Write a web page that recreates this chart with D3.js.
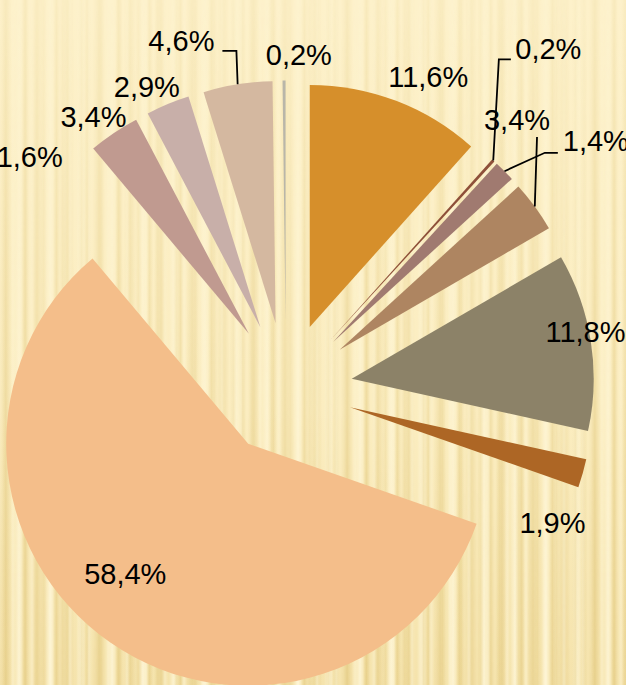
<!DOCTYPE html>
<meta charset="utf-8">
<style>
body { margin: 0; overflow: hidden; background: #fcf0c8; }
.label { font-family: "Liberation Sans", Arial, sans-serif; font-size: 29px; fill: #000; }
.leader { fill: none; stroke: #000; stroke-width: 1.8px; }
</style>
<body>
<script src="https://d3js.org/d3.v7.min.js"></script>
<script>

// slices, clockwise from 12 o'clock
var labels = ["11,6%", "0,2%", "1,4%", "3,4%", "11,8%", "1,9%", "58,4%", "1,6%", "3,4%", "2,9%", "4,6%", "0,2%"];
// the 1,6% slice has no visible width in the picture
var values = [11.6, 0.2, 1.4, 3.4, 11.8, 1.9, 58.4, 0, 3.4, 2.9, 4.6, 0.2];
var colors = ["#d68f2b", "#8e5039", "#a07a70", "#ae8561", "#8c8268", "#ad6625",
              "#f4be8a", "#e8c9a0", "#c09a90", "#c8afa9", "#d4b8a0", "#b9b6a9"];

// layout
var width = 626, height = 685;
var cx = 286, cy = 389, radius = 242, explode = 66.5;

// label placement: angle (deg, clockwise from top) and distance from pie centre
var labelAngle = [24.5, 37.6, 51.3, 40.6, 79.1, 116.6, 221, 312.2, 324.8, 335.3, 343.3, 2.2];
var labelDist  = [343, 430, 397, 355, 305, 298, 245, 346, 334, 333, 364, 335];
// leader lines: [elbow, end] offsets from label centre
var leaders = [null, [[-49.5, 11], [-37.5, 11]], [[-51, 12], [-38, 12]], [[20, 17.5], [20, 17.5]],
               null, null, null, null, null, null, [[55, 10.5], [41, 10.5]], null];

var svg = d3.select("body").append("svg")
    .attr("width", width)
    .attr("height", height);

// background: cream with soft vertical stripes, stronger toward the bottom
var defs = svg.append("defs");

var bg = defs.append("linearGradient").attr("id", "bg")
    .attr("x1", 0).attr("y1", 0).attr("x2", 0).attr("y2", 1);
bg.append("stop").attr("offset", 0).attr("stop-color", "#fdf1ca");
bg.append("stop").attr("offset", 0.6).attr("stop-color", "#fbedc0");
bg.append("stop").attr("offset", 1).attr("stop-color", "#f5e3ac");

function stripeGrad(id, col, op) {
  var g = defs.append("linearGradient").attr("id", id)
      .attr("x1", 0).attr("y1", 0).attr("x2", 1).attr("y2", 0);
  g.append("stop").attr("offset", 0).attr("stop-color", col).attr("stop-opacity", 0);
  g.append("stop").attr("offset", 0.5).attr("stop-color", col).attr("stop-opacity", op);
  g.append("stop").attr("offset", 1).attr("stop-color", col).attr("stop-opacity", 0);
}
stripeGrad("sdark", "#e2c980", 0.55);
stripeGrad("slight", "#fff8dc", 0.8);

function stripePattern(id, w, parts) {
  var p = defs.append("pattern").attr("id", id)
      .attr("patternUnits", "userSpaceOnUse")
      .attr("width", w).attr("height", height);
  parts.forEach(function(s) {
    p.append("rect").attr("x", s[0]).attr("width", s[1]).attr("height", height)
      .attr("fill", "url(#" + s[2] + ")");
  });
}
stripePattern("stripesA", 31, [[0, 12, "sdark"], [14, 10, "slight"], [22, 7, "sdark"]]);
stripePattern("stripesB", 19, [[2, 7, "sdark"], [10, 6, "slight"]]);

var fade = defs.append("linearGradient").attr("id", "fade")
    .attr("x1", 0).attr("y1", 0).attr("x2", 0).attr("y2", 1);
fade.append("stop").attr("offset", 0).attr("stop-color", "#fff").attr("stop-opacity", 0.25);
fade.append("stop").attr("offset", 1).attr("stop-color", "#fff").attr("stop-opacity", 1);
defs.append("mask").attr("id", "fadeMask")
  .append("rect").attr("width", width).attr("height", height).attr("fill", "url(#fade)");

svg.append("rect").attr("width", width).attr("height", height).attr("fill", "url(#bg)");
var stripes = svg.append("g").attr("mask", "url(#fadeMask)");
stripes.append("rect").attr("width", width).attr("height", height).attr("fill", "url(#stripesA)");
stripes.append("rect").attr("width", width).attr("height", height).attr("fill", "url(#stripesB)")
    .attr("opacity", 0.6);

// pie
var pie = d3.pie().sort(null).value(function(d) { return d; });
var arc = d3.arc().innerRadius(0).outerRadius(radius);
var arcs = pie(values);

function polar(a, r) {
  return [Math.sin(a) * r, -Math.cos(a) * r];
}
function mid(d) { return (d.startAngle + d.endAngle) / 2; }

svg.selectAll("path.slice")
    .data(arcs)
  .enter().append("path")
    .attr("class", "slice")
    .attr("fill", function(d, i) { return colors[i]; })
    .attr("transform", function(d) {
      var o = polar(mid(d), explode);
      return "translate(" + (cx + o[0]) + "," + (cy + o[1]) + ")";
    })
    .attr("d", arc);

// labels
var toRad = Math.PI / 180;
function labelXY(i) {
  var p = polar(labelAngle[i] * toRad, labelDist[i]);
  return [cx + p[0], cy + p[1]];
}

// leader lines
arcs.forEach(function(d, i) {
  if (!leaders[i]) return;
  var s = polar(mid(d), explode + radius);
  var c = labelXY(i);
  var pts = [[cx + s[0], cy + s[1]],
             [c[0] + leaders[i][0][0], c[1] + leaders[i][0][1]],
             [c[0] + leaders[i][1][0], c[1] + leaders[i][1][1]]];
  svg.append("path")
      .attr("class", "leader")
      .attr("d", d3.line()(pts));
});

svg.selectAll("text.label")
    .data(labels)
  .enter().append("text")
    .attr("class", "label")
    .attr("text-anchor", "middle")
    .attr("dy", "0.36em")
    .attr("x", function(d, i) { return labelXY(i)[0]; })
    .attr("y", function(d, i) { return labelXY(i)[1]; })
    .text(function(d) { return d; });

</script>
</body>
